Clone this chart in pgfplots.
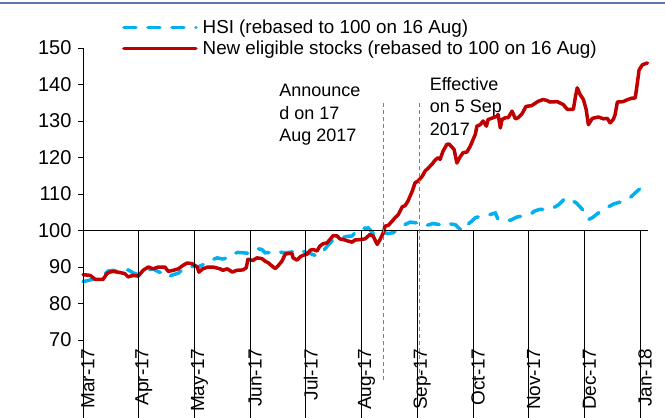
\documentclass[border=0pt]{standalone}
\usepackage{pgfplots}
\pgfplotsset{compat=1.18}
\usepackage{fontspec}
\setmainfont{Liberation Sans}
\definecolor{hsiblue}{HTML}{00B0F0}
\definecolor{newred}{HTML}{C00000}
\definecolor{topline}{HTML}{5B7BA6}
\begin{document}
\begin{tikzpicture}[x=1pt,y=1pt]
\useasboundingbox (0,0) rectangle (665,418);
\draw[topline, line width=2pt] (0,415) -- (665,415);
\begin{axis}[
  at={(83pt,78pt)}, anchor=south west,
  scale only axis, width=565pt, height=292pt,
  xmin=0, xmax=10.14, ymin=70, ymax=150,
  clip=false,
  axis y line*=left, axis x line*=bottom,
  x axis line style={draw=none},
  y axis line style={black, line width=0.8pt},
  xtick={0,...,10},
  xticklabels={Mar-17,Apr-17,May-17,Jun-17,Jul-17,Aug-17,Sep-17,Oct-17,Nov-17,Dec-17,Jan-18},
  xtick style={draw=none},
  xticklabel style={rotate=90, anchor=east, yshift=-5pt, font=\fontsize{19}{22}\selectfont},
  ytick={70,80,...,150},
  ytick style={black, line width=0.8pt},
  tick align=outside, major tick length=5pt,
  yticklabel style={xshift=-3pt, font=\fontsize{20}{22}\selectfont},
  /pgf/number format/assume math mode=true,
  legend style={draw=none, fill=none, at={(0.069,1.101)}, anchor=north west, inner sep=0pt,
    nodes={inner sep=1pt},
    font=\fontsize{18.8}{22}\selectfont, row sep=4pt},
  legend cell align=left,
  legend image code/.code={\draw[#1] (0pt,0pt) -- (72pt,0pt); \path (76pt,0pt);},
]
\addplot[hsiblue, line width=3.5pt, line cap=round, dash pattern=on 12pt off 12pt] table {
x y
0.00 86.0
0.09 86.3
0.22 86.8
0.36 87.5
0.45 88.9
0.54 89.1
0.63 88.8
0.72 88.7
0.81 89.2
0.90 88.4
0.99 87.9
1.08 88.5
1.17 89.3
1.26 89.5
1.35 88.7
1.44 88.3
1.53 87.2
1.60 87.8
1.71 88.3
1.80 89.5
1.92 90.0
2.01 90.3
2.06 90.0
2.21 91.0
2.32 92.0
2.41 92.5
2.50 92.2
2.60 92.5
2.69 93.6
2.78 94.0
2.87 93.9
3.00 93.7
3.14 95.0
3.21 94.8
3.27 93.9
3.36 94.0
3.48 94.4
3.59 93.9
3.72 94.0
3.86 94.8
3.99 94.1
4.11 93.5
4.20 93.0
4.29 94.0
4.40 96.0
4.49 97.5
4.56 97.5
4.65 98.0
4.74 98.4
4.83 98.5
4.94 100.5
5.03 100.6
5.12 100.7
5.19 99.5
5.26 98.5
5.33 98.9
5.39 99.4
5.48 99.2
5.57 99.4
5.66 100.7
5.76 101.5
5.87 102.3
5.98 102.1
6.09 101.2
6.19 101.5
6.28 101.9
6.41 101.6
6.50 102.1
6.59 101.8
6.68 101.6
6.77 100.3
6.80 99.8
6.89 101.5
6.98 102.6
7.04 103.5
7.13 103.9
7.27 104.2
7.40 104.8
7.45 103.0
7.58 103.0
7.67 102.8
7.79 103.7
7.90 104.0
8.03 104.4
8.10 105.3
8.20 105.8
8.33 105.7
8.44 106.2
8.53 107.0
8.60 108.0
8.65 108.9
8.74 108.5
8.85 107.6
8.92 106.5
8.99 105.3
9.07 103.0
9.14 103.5
9.25 104.8
9.32 105.8
9.43 106.5
9.53 107.3
9.64 107.8
9.73 108.0
9.82 109.0
9.91 110.3
10.00 111.5
10.07 112.6
};
\addlegendentry{HSI (rebased to 100 on 16 Aug)}
\addplot[newred, line width=3.5pt, line join=round, line cap=round] table {
x y
0.00 87.9
0.13 87.7
0.22 86.6
0.36 86.6
0.43 88.2
0.48 88.6
0.54 88.8
0.66 88.5
0.75 88.2
0.81 87.3
0.90 87.7
0.99 87.5
1.08 89.1
1.17 90.0
1.26 89.5
1.35 90.0
1.47 90.0
1.53 88.8
1.62 89.1
1.71 89.5
1.80 90.5
1.87 91.1
1.96 90.9
2.05 90.0
2.08 88.6
2.15 89.5
2.24 90.0
2.33 90.0
2.46 89.5
2.51 89.1
2.59 89.5
2.68 88.6
2.76 89.1
2.87 89.2
2.93 89.8
2.96 92.1
3.05 91.8
3.12 92.5
3.21 92.3
3.27 91.6
3.32 91.2
3.39 90.3
3.45 89.6
3.50 90.3
3.57 91.6
3.63 93.5
3.68 93.7
3.75 93.7
3.77 92.5
3.84 91.9
3.90 92.8
3.95 93.2
4.02 93.5
4.08 94.6
4.13 94.8
4.20 94.4
4.25 95.7
4.31 96.4
4.38 96.6
4.43 97.5
4.49 98.6
4.56 98.5
4.61 97.7
4.70 97.4
4.76 97.1
4.83 96.8
4.88 97.4
4.97 97.5
5.06 97.7
5.15 98.9
5.21 98.4
5.28 96.2
5.33 97.5
5.39 99.4
5.42 101.2
5.48 101.4
5.55 102.6
5.60 103.5
5.66 104.4
5.73 106.5
5.78 106.8
5.83 108.0
5.91 110.8
5.96 113.1
6.01 113.5
6.09 114.9
6.14 116.3
6.19 117.0
6.27 118.3
6.32 119.3
6.37 119.9
6.41 119.5
6.46 121.7
6.53 123.6
6.57 123.7
6.66 122.2
6.71 118.5
6.77 120.2
6.82 121.3
6.89 121.5
6.95 123.1
7.00 124.9
7.04 126.3
7.07 128.6
7.13 129.0
7.18 130.0
7.24 128.6
7.27 130.4
7.36 130.9
7.43 131.3
7.45 131.8
7.49 128.1
7.52 130.4
7.58 130.9
7.63 130.9
7.70 132.7
7.76 130.6
7.81 130.9
7.88 132.0
7.95 134.0
8.05 134.2
8.17 135.4
8.26 135.9
8.33 135.6
8.38 135.2
8.51 135.3
8.62 134.5
8.69 133.2
8.80 133.2
8.84 136.8
8.87 139.1
8.92 137.3
8.98 135.9
9.03 133.2
9.07 129.0
9.14 130.7
9.25 131.1
9.34 130.6
9.41 130.7
9.46 129.5
9.52 130.5
9.55 131.8
9.59 135.2
9.69 135.3
9.78 135.9
9.86 136.3
9.91 136.3
9.95 140.5
9.98 144.0
10.04 145.4
10.13 145.9
};
\addlegendentry{New eligible stocks (rebased to 100 on 16 Aug)}
\draw[black, line width=0.8pt] (axis cs:0,100) -- (axis cs:10.14,100);
\pgfplotsinvokeforeach{0,...,10}{\draw[black, line width=0.8pt] (axis cs:#1,100) -- ++(0,-5pt);}
\draw[gray, line width=0.8pt, dash pattern=on 4pt off 3pt] (axis cs:5.40,134.9) -- (axis cs:5.40,58.2);
\draw[gray, line width=0.8pt, dash pattern=on 4pt off 3pt] (axis cs:6.04,134.9) -- (axis cs:6.04,58.2);
\node[anchor=north west, inner sep=0pt, align=left, font=\fontsize{18}{22.5}\selectfont] at (axis cs:3.52,140.1) {Announce\\d on 17\\Aug 2017};
\node[anchor=north west, inner sep=0pt, align=left, font=\fontsize{18}{22.5}\selectfont] at (axis cs:6.22,142.1) {Effective\\on 5 Sep\\2017};
\end{axis}
\end{tikzpicture}
\end{document}
